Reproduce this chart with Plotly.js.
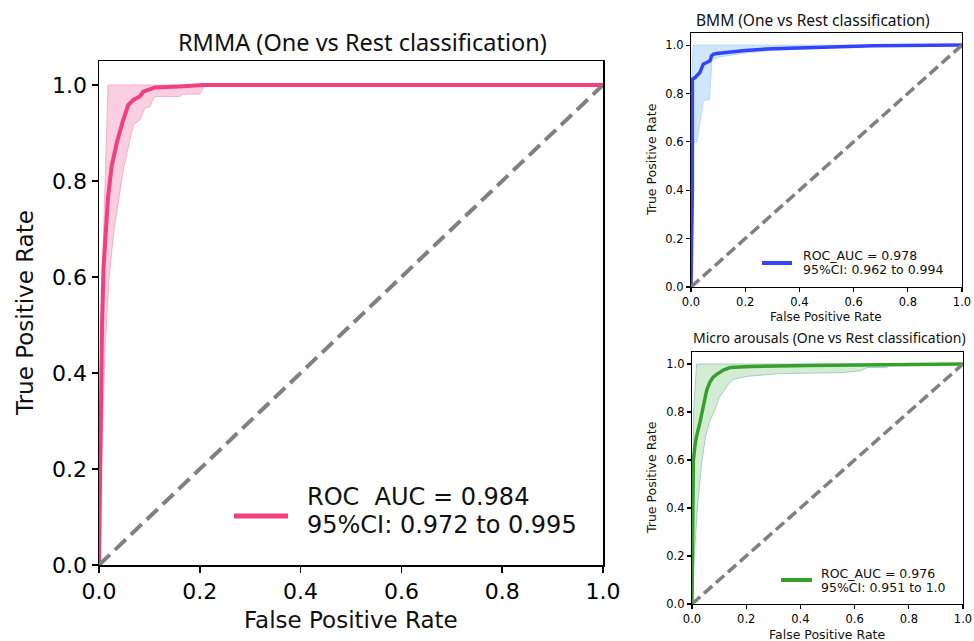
<!DOCTYPE html>
<html>
<head>
<meta charset="utf-8">
<script src="https://cdn.plot.ly/plotly-3.0.1.min.js"></script>
<style>html,body{margin:0;padding:0;background:#fff;}#chart{width:974px;height:641px;}</style>
</head>
<body>
<div id="chart"></div>
<script>
// ---- RMMA (left) ----
const rmmaFpr = [0, 0.003, 0.006, 0.009, 0.013, 0.018, 0.025, 0.035, 0.048, 0.058, 0.068, 0.081, 0.088, 0.101, 0.111, 0.16, 0.207, 1.0];
const rmmaTpr = [0, 0.30, 0.50, 0.62, 0.70, 0.767, 0.83, 0.878, 0.927, 0.958, 0.969, 0.976, 0.986, 0.99, 0.995, 0.997, 1.0, 1.0];
const rmmaUpFpr = [0, 0.002, 0.007, 0.018, 1.0];
const rmmaUpTpr = [0, 0.35, 0.615, 1.0, 1.0];
const rmmaLoFpr = [0, 0.006, 0.012, 0.02, 0.03, 0.048, 0.068, 0.081, 0.091, 0.101, 0.108, 0.111, 0.16, 0.167, 0.2, 0.21, 1.0];
const rmmaLoTpr = [0, 0.25, 0.45, 0.60, 0.70, 0.823, 0.917, 0.927, 0.952, 0.955, 0.972, 0.976, 0.976, 0.981, 0.981, 1.0, 1.0];

// ---- BMM (top right) ----
const bmmFpr = [0, 0.005, 0.005, 0.015, 0.033, 0.045, 0.058, 0.07, 0.076, 0.082, 0.095, 0.132, 0.2, 0.3, 0.427, 0.55, 0.673, 1.0];
const bmmTpr = [0, 0.40, 0.859, 0.866, 0.887, 0.921, 0.928, 0.935, 0.956, 0.962, 0.965, 0.97, 0.978, 0.985, 0.99, 0.994, 0.997, 1.0];
const bmmUpFpr = [0, 0.004, 0.008, 1.0];
const bmmUpTpr = [0, 0.9, 1.0, 1.0];
const bmmLoFpr = [0, 0.005, 0.01, 0.022, 0.045, 0.068, 0.077, 0.1, 0.15, 0.2, 0.3, 0.4, 0.6, 0.8, 1.0];
const bmmLoTpr = [0, 0.30, 0.60, 0.60, 0.77, 0.775, 0.935, 0.95, 0.96, 0.967, 0.978, 0.985, 0.993, 0.998, 1.0];

// ---- Micro arousals (bottom right) ----
const maFpr = [0, 0.002, 0.005, 0.011, 0.017, 0.03, 0.042, 0.054, 0.066, 0.078, 0.091, 0.116, 0.14, 0.214, 0.425, 0.67, 1.0];
const maTpr = [0, 0.35, 0.597, 0.66, 0.70, 0.76, 0.83, 0.89, 0.925, 0.945, 0.957, 0.975, 0.985, 0.99, 0.994, 0.997, 1.0];
const maUpFpr = [0, 0.002, 0.006, 0.017, 1.0];
const maUpTpr = [0, 0.45, 0.8, 1.0, 1.0];
const maLoFpr = [0, 0.008, 0.02, 0.035, 0.05, 0.065, 0.085, 0.1, 0.116, 0.134, 0.152, 0.177, 0.214, 0.325, 0.546, 0.62, 0.645, 0.718, 0.736, 1.0];
const maLoTpr = [0, 0.2, 0.4, 0.58, 0.7, 0.76, 0.81, 0.86, 0.888, 0.916, 0.936, 0.943, 0.95, 0.96, 0.964, 0.971, 0.985, 0.985, 1.0, 1.0];

const diagX = [0, 1];
const diagY = [0, 1];

const tickVals = [0, 0.2, 0.4, 0.6, 0.8, 1.0];
const tickText = ["0.0", "0.2", "0.4", "0.6", "0.8", "1.0"];

const titles = ["RMMA (One vs Rest classification)", "BMM (One vs Rest classification)", "Micro arousals (One vs Rest classification)"];
const aucLines = [["ROC  AUC = 0.984", "95%CI: 0.972 to 0.995"], ["ROC_AUC = 0.978", "95%CI: 0.962 to 0.994"], ["ROC_AUC = 0.976", "95%CI: 0.951 to 1.0"]];
const xLabel = "False Positive Rate";
const yLabel = "True Positive Rate";

const pink = "#f0407f", blue = "#3344ff", green = "#35a02c";

function band(upX, upY, loX, loY, fillc, linec, xa, ya) {
  return {
    x: upX.concat(loX.slice().reverse()),
    y: upY.concat(loY.slice().reverse()),
    type: "scatter", mode: "lines", fill: "toself", fillcolor: fillc,
    line: {color: linec, width: 1}, xaxis: xa, yaxis: ya, hoverinfo: "skip", showlegend: false
  };
}
function curve(x, y, c, w, xa, ya) {
  return {x: x, y: y, type: "scatter", mode: "lines", line: {color: c, width: w}, xaxis: xa, yaxis: ya, showlegend: false};
}
function diag(w, dash, xa, ya) {
  return {x: diagX, y: diagY, type: "scatter", mode: "lines", line: {color: "#808080", width: w, dash: dash}, xaxis: xa, yaxis: ya, showlegend: false};
}

const traces = [
  band(rmmaUpFpr, rmmaUpTpr, rmmaLoFpr, rmmaLoTpr, "rgba(247,160,192,0.5)", "rgba(247,160,192,0.8)", "x", "y"),
  curve(rmmaFpr, rmmaTpr, pink, 4, "x", "y"),
  diag(4, "15px,7px", "x", "y"),
  band(bmmUpFpr, bmmUpTpr, bmmLoFpr, bmmLoTpr, "rgba(160,205,255,0.5)", "rgba(170,210,255,0.8)", "x2", "y2"),
  curve(bmmFpr, bmmTpr, blue, 3.5, "x2", "y2"),
  diag(3.5, "11px,5px", "x2", "y2"),
  band(maUpFpr, maUpTpr, maLoFpr, maLoTpr, "rgba(170,220,165,0.5)", "rgba(160,200,195,0.9)", "x3", "y3"),
  curve(maFpr, maTpr, green, 3.5, "x3", "y3"),
  diag(3.5, "11px,5px", "x3", "y3")
];

const W = 974, H = 641;
const px = v => v / W, py = v => 1 - v / H;

function xax(dom, fs, tl, lw) {
  return {domain: dom, range: [0, 1], tickvals: tickVals, ticktext: tickText, ticks: "outside", ticklen: tl, tickwidth: lw,
    tickcolor: "#000", showline: true, mirror: true, linecolor: "#000", linewidth: lw, showgrid: false, zeroline: false,
    tickfont: {family: "DejaVu Sans", size: fs, color: "#000"}, fixedrange: true};
}
function yax(dom, fs, tl, lw) {
  const a = xax(dom, fs, tl, lw); a.range = [0, 1.05]; return a;
}

const F = "DejaVu Sans", TF = "Noto Sans";
const ann = [];
function txt(text, x, y, size, fam, xanchor, rot) {
  ann.push({text: text, x: px(x), y: py(y), xref: "paper", yref: "paper", showarrow: false, xanchor: xanchor || "center", yanchor: "middle",
    textangle: rot || 0, font: {family: fam, size: size, color: "#111"}});
}
// titles
txt(titles[0], 362, 42, 23.5, TF);
txt(titles[1], 813, 20, 15.5, TF);
txt(titles[2], 829, 338, 14, TF);
// axis labels
txt(xLabel, 351, 620, 23, F); txt(yLabel, 25, 313, 23, F, "center", -90);
txt(xLabel, 826, 317, 12, F); txt(yLabel, 651, 160, 12.5, F, "center", -90);
txt(xLabel, 827, 634, 12.5, F); txt(yLabel, 651, 478, 12.5, F, "center", -90);
// legends
txt(aucLines[0][0], 305, 497, 24, F, "left"); txt(aucLines[0][1], 305, 525, 24, F, "left");
txt(aucLines[1][0], 801, 255, 12.5, F, "left"); txt(aucLines[1][1], 801, 269, 12.5, F, "left");
txt(aucLines[2][0], 819, 573, 12.5, F, "left"); txt(aucLines[2][1], 819, 587, 12.5, F, "left");

const shapes = [
  {type: "line", xref: "paper", yref: "paper", x0: px(234), x1: px(288), y0: py(516), y1: py(516), line: {color: pink, width: 5}},
  {type: "line", xref: "paper", yref: "paper", x0: px(762), x1: px(792), y0: py(263), y1: py(263), line: {color: blue, width: 4}},
  {type: "line", xref: "paper", yref: "paper", x0: px(781), x1: px(812), y0: py(580), y1: py(580), line: {color: green, width: 4}}
];

const layout = {
  width: W, height: H, margin: {l: 0, r: 0, t: 0, b: 0}, paper_bgcolor: "#fff", plot_bgcolor: "#fff", showlegend: false,
  xaxis: xax([px(99), px(603)], 22, 6, 1.5),
  yaxis: yax([py(565), py(61)], 22, 6, 1.5),
  xaxis2: Object.assign(xax([px(691), px(962)], 11.5, 3.5, 1.2), {anchor: "y2"}),
  yaxis2: Object.assign(yax([py(287), py(33)], 11.5, 4, 1.2), {anchor: "x2"}),
  xaxis3: Object.assign(xax([px(692), px(963)], 11.5, 4, 1.2), {anchor: "y3"}),
  yaxis3: Object.assign(yax([py(604), py(352)], 11.5, 4, 1.2), {anchor: "x3"}),
  annotations: ann, shapes: shapes
};

Plotly.newPlot("chart", traces, layout, {displayModeBar: false, staticPlot: true});
</script>
</body>
</html>
